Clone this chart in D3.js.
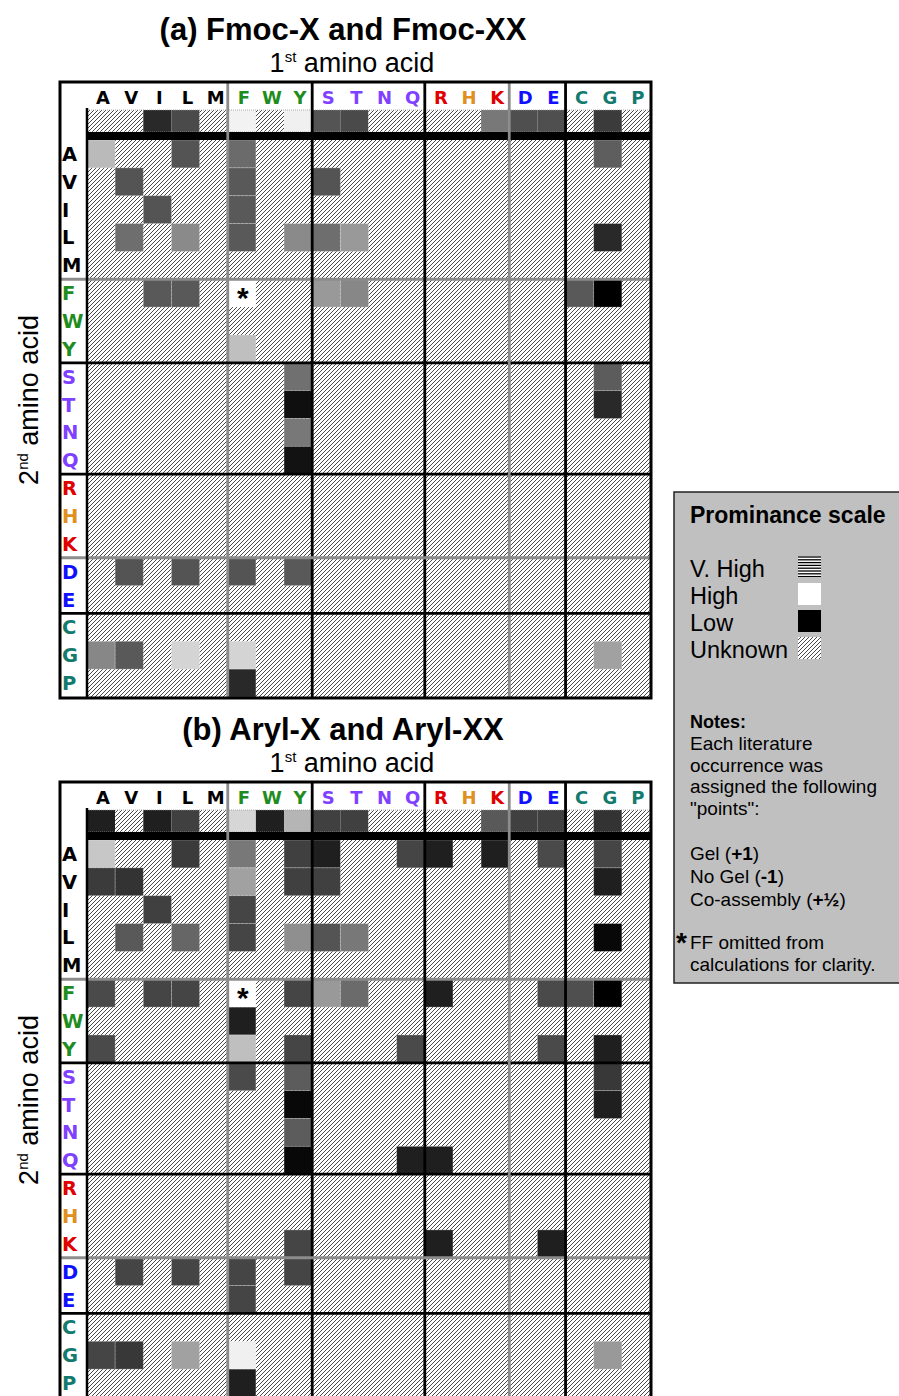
<!DOCTYPE html>
<html>
<head>
<meta charset="utf-8">
<script src="https://cdn.jsdelivr.net/npm/d3@7"></script>
<style>
  body { margin: 0; background: #fff; }
  svg text { font-family: "Liberation Sans", Arial, sans-serif; }
  .aa { font-family: "DejaVu Sans", Verdana, sans-serif; font-weight: bold; }
</style>
</head>
<body>
<div id="chart"></div>
<script>
// amino acids, in the order of both axes
var aminoAcids = ["A","V","I","L","M","F","W","Y","S","T","N","Q","R","H","K","D","E","C","G","P"];
var aaColors = ["#000","#000","#000","#000","#000","#1e8c1e","#1e8c1e","#1e8c1e",
                "#8040ff","#8040ff","#8040ff","#8040ff","#e00000","#e0901e","#e00000",
                "#1010ff","#1010ff","#147a6e","#147a6e","#147a6e"];
// group boundaries (after which residue), colour of the divider
var groupBreaks = [["M","#8c8c8c"],["Y","#000"],["Q","#000"],["K","#8c8c8c"],["E","#000"]];

// prominence score, 0 = low (black) .. 1 = high (white), null = unknown
var fmocSingle = [null,null,0.16,0.29,null,0.95,null,0.94,0.33,0.29,null,null,null,null,0.47,0.31,0.31,null,0.23,null];
// [2nd amino acid, 1st amino acid, score]
var fmocPairs = [
  ["A","A",0.73],["A","L",0.33],["A","F",0.42],["A","G",0.37],
  ["V","V",0.33],["V","F",0.35],["V","S",0.33],
  ["I","I",0.33],["I","F",0.35],
  ["L","V",0.43],["L","L",0.54],["L","F",0.35],["L","Y",0.54],["L","S",0.43],["L","T",0.6],["L","G",0.16],
  ["F","I",0.35],["F","L",0.35],["F","S",0.6],["F","T",0.53],["F","C",0.35],["F","G",0],
  ["Y","F",0.75],
  ["S","Y",0.44],["S","G",0.36],
  ["T","Y",0.06],["T","G",0.16],
  ["N","Y",0.47],
  ["Q","Y",0.07],
  ["D","V",0.33],["D","L",0.33],["D","F",0.33],["D","Y",0.35],
  ["G","A",0.53],["G","V",0.35],["G","L",0.83],["G","F",0.83],["G","G",0.63],
  ["P","F",0.16]
];

var arylSingle = [0.12,null,0.12,0.25,null,0.84,0.12,0.71,0.25,0.25,null,null,null,null,0.35,0.25,0.25,null,0.2,null];
var arylPairs = [
  ["A","A",0.78],["A","L",0.23],["A","F",0.47],["A","Y",0.25],["A","S",0.12],["A","Q",0.27],["A","R",0.12],["A","K",0.12],["A","E",0.29],["A","G",0.27],
  ["V","A",0.23],["V","V",0.2],["V","F",0.63],["V","Y",0.25],["V","S",0.25],["V","G",0.12],
  ["I","I",0.25],["I","F",0.27],
  ["L","V",0.35],["L","L",0.4],["L","F",0.27],["L","Y",0.56],["L","S",0.33],["L","T",0.47],["L","G",0.03],
  ["F","A",0.29],["F","I",0.27],["F","L",0.27],["F","Y",0.27],["F","S",0.6],["F","T",0.42],["F","R",0.12],["F","E",0.29],["F","C",0.31],["F","G",0],
  ["W","F",0.12],
  ["Y","A",0.29],["Y","F",0.75],["Y","Y",0.27],["Y","Q",0.29],["Y","E",0.29],["Y","G",0.12],
  ["S","F",0.29],["S","Y",0.36],["S","G",0.22],
  ["T","Y",0.03],["T","G",0.12],
  ["N","Y",0.36],
  ["Q","Y",0.03],["Q","Q",0.12],["Q","R",0.12],
  ["K","Y",0.27],["K","R",0.12],["K","E",0.12],
  ["D","V",0.27],["D","L",0.27],["D","F",0.27],["D","Y",0.27],
  ["E","F",0.27],
  ["G","A",0.27],["G","V",0.22],["G","L",0.63],["G","F",0.94],["G","G",0.6],
  ["P","F",0.12]
];
var omitted = ["F","F"];   // FF, left out of the calculations

var legendItems = ["V. High","High","Low","Unknown"];
var noteLines = ["Each literature","occurrence was","assigned the following","\"points\":"];

var width = 899, height = 1396;

var svg = d3.select("#chart").append("svg")
    .attr("width", width)
    .attr("height", height);

var defs = svg.append("defs");
defs.append("pattern")
    .attr("id","hatch")
    .attr("patternUnits","userSpaceOnUse")
    .attr("width",4).attr("height",4)
  .call(function(p){
    p.append("rect").attr("width",4).attr("height",4).attr("fill","#fff");
    p.append("path")
      .attr("d","M-1,1 L1,-1 M0,4 L4,0 M3,5 L5,3")
      .attr("stroke","#333").attr("stroke-width",0.9);
  });

var x = d3.scaleBand().domain(aminoAcids).range([87, 650]);
var shade = d3.scaleLinear().domain([0,1]).range(["#000","#fff"]);

function drawPanel(top, title, singles, pairs) {
  var g = svg.append("g").attr("transform","translate(0," + top + ")");
  var y = d3.scaleBand().domain(aminoAcids).range([140, 697]);

  g.append("text")
      .attr("x", 343).attr("y", 40)
      .attr("text-anchor","middle")
      .style("font-size","31px").style("font-weight","bold")
      .text(title);

  var sub = g.append("text")
      .attr("x", 352).attr("y", 72)
      .attr("text-anchor","middle")
      .style("font-size","27px");
  sub.append("tspan").text("1");
  sub.append("tspan").attr("dy",-10).style("font-size","15px").text("st");
  sub.append("tspan").attr("dy",10).text(" amino acid");

  var yl = g.append("text")
      .attr("transform","translate(38,400) rotate(-90)")
      .attr("text-anchor","middle")
      .style("font-size","27px");
  yl.append("tspan").text("2");
  yl.append("tspan").attr("dy",-10).style("font-size","15px").text("nd");
  yl.append("tspan").attr("dy",10).text(" amino acid");

  // white frame
  g.append("rect")
      .attr("x",60).attr("y",82).attr("width",591).attr("height",616)
      .attr("fill","#fff");

  // single amino acid row
  g.selectAll(".single")
    .data(singles)
    .enter().append("rect")
      .attr("x", function(d,i){ return x(aminoAcids[i]); })
      .attr("y", 110)
      .attr("width", x.bandwidth())
      .attr("height", 22)
      .attr("fill", function(d){ return d === null ? "url(#hatch)" : shade(d); });
  g.append("rect")
      .attr("x",87).attr("y",110).attr("width",563).attr("height",22)
      .attr("fill","none").attr("stroke","#999").attr("stroke-width",0.8)
      .attr("stroke-dasharray","1,1");

  // dipeptide matrix
  g.append("rect")
      .attr("x",87).attr("y",140).attr("width",563).attr("height",557)
      .attr("fill","url(#hatch)");
  g.selectAll(".pair")
    .data(pairs)
    .enter().append("rect")
      .attr("x", function(d){ return x(d[1]); })
      .attr("y", function(d){ return y(d[0]); })
      .attr("width", x.bandwidth())
      .attr("height", y.bandwidth())
      .attr("fill", function(d){ return shade(d[2]); })
      .attr("stroke", "#fff").attr("stroke-opacity",0.3).attr("stroke-width",0.8);

  g.append("rect")
      .attr("x", x(omitted[1])).attr("y", y(omitted[0]))
      .attr("width", x.bandwidth()).attr("height", y.bandwidth())
      .attr("fill","#fff");
  g.append("text")
      .attr("x", x(omitted[1]) + x.bandwidth()/2 + 1)
      .attr("y", y(omitted[0]) + y.bandwidth()/2 + 15)
      .attr("text-anchor","middle")
      .style("font-size","30px").style("font-weight","bold")
      .text("*");

  // black bar under the single row
  g.append("rect")
      .attr("x",87).attr("y",132).attr("width",563).attr("height",8)
      .attr("fill","#000");

  // column letters
  g.selectAll(".colLabel")
    .data(aminoAcids)
    .enter().append("text")
      .attr("class","aa")
      .attr("x", function(d){ return x(d) + x.bandwidth()/2 + 2; })
      .attr("y", 104)
      .attr("text-anchor","middle")
      .style("font-size","18px")
      .attr("fill", function(d,i){ return aaColors[i]; })
      .text(function(d){ return d; });

  // row letters
  g.selectAll(".rowLabel")
    .data(aminoAcids)
    .enter().append("text")
      .attr("class","aa")
      .attr("x", 62)
      .attr("y", function(d){ return y(d) + y.bandwidth()/2 + 7; })
      .style("font-size","19.5px")
      .attr("fill", function(d,i){ return aaColors[i]; })
      .text(function(d){ return d; });

  // group dividers
  groupBreaks.forEach(function(b){
    var bx = x(b[0]) + x.bandwidth();
    var by = y(b[0]) + y.bandwidth();
    g.append("line")
        .attr("x1",bx).attr("x2",bx).attr("y1",82).attr("y2",698)
        .attr("stroke",b[1]).attr("stroke-width",2.8);
    g.append("line")
        .attr("x1",60).attr("x2",651).attr("y1",by).attr("y2",by)
        .attr("stroke",b[1]).attr("stroke-width",2.8);
  });

  g.append("line")
      .attr("x1",87).attr("x2",87).attr("y1",108).attr("y2",698)
      .attr("stroke","#000").attr("stroke-width",2.5);
  g.append("rect")
      .attr("x",60).attr("y",82).attr("width",591).attr("height",616)
      .attr("fill","none").attr("stroke","#000").attr("stroke-width",3);
}

drawPanel(0, "(a) Fmoc-X and Fmoc-XX", fmocSingle, fmocPairs);
drawPanel(700, "(b) Aryl-X and Aryl-XX", arylSingle, arylPairs);

// legend box
var lg = svg.append("g");
lg.append("rect")
    .attr("x",674).attr("y",492).attr("width",240).attr("height",491)
    .attr("fill","#c0c0c0").attr("stroke","#222").attr("stroke-width",1.5);
lg.append("text")
    .attr("x",690).attr("y",523)
    .style("font-size","23px").style("font-weight","bold")
    .text("Prominance scale");

var item = lg.selectAll(".item")
  .data(legendItems)
  .enter().append("g")
    .attr("transform", function(d,i){ return "translate(0," + (577 + i*27) + ")"; });
item.append("text")
    .attr("x",690).attr("y",0)
    .style("font-size","23.5px")
    .text(function(d){ return d; });
item.append("rect")
    .attr("x",798).attr("y",-21).attr("width",23).attr("height",22)
    .attr("fill", function(d,i){ return ["#fff","#fff","#000","url(#hatch)"][i]; });
var vh = item.filter(function(d,i){ return i === 0; });
d3.range(8).forEach(function(k){
  vh.append("line")
      .attr("x1",798).attr("x2",821)
      .attr("y1",-20 + k*2.8).attr("y2",-20 + k*2.8)
      .attr("stroke","#000").attr("stroke-width",1.3);
});

lg.append("text")
    .attr("x",690).attr("y",728)
    .style("font-size","18px").style("font-weight","bold")
    .text("Notes:");
lg.selectAll(".note")
  .data(noteLines)
  .enter().append("text")
    .attr("x",690)
    .attr("y", function(d,i){ return 750 + i*21.5; })
    .style("font-size","19px")
    .text(function(d){ return d; });

var pts = [["Gel (","+1",")"],["No Gel (","-1",")"],["Co-assembly (","+½",")"]];
pts.forEach(function(p,i){
  var t = lg.append("text")
      .attr("x",690).attr("y",860 + i*23)
      .style("font-size","19px");
  t.append("tspan").text(p[0]);
  t.append("tspan").style("font-weight","bold").text(p[1]);
  t.append("tspan").text(p[2]);
});

lg.append("text")
    .attr("x",676).attr("y",952)
    .style("font-size","28px").style("font-weight","bold")
    .text("*");
lg.append("text")
    .attr("x",690).attr("y",949)
    .style("font-size","19px")
    .text("FF omitted from");
lg.append("text")
    .attr("x",690).attr("y",971)
    .style("font-size","19px")
    .text("calculations for clarity.");
</script>
</body>
</html>
